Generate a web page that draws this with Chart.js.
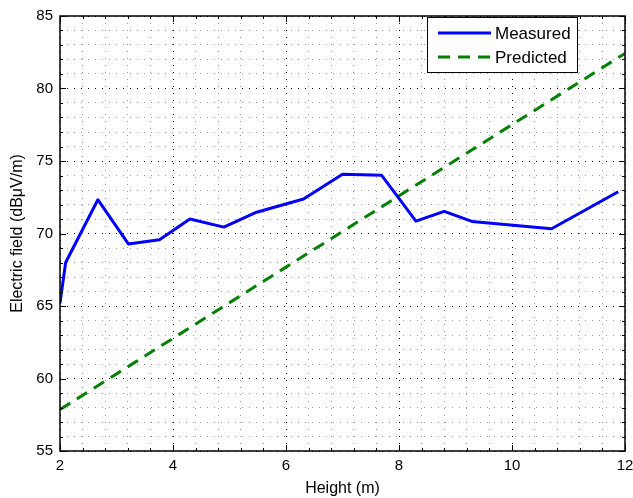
<!DOCTYPE html>
<html>
<head>
<meta charset="utf-8">
<script src="https://cdn.jsdelivr.net/npm/chart.js@4"></script>
<style>
  html, body { margin: 0; padding: 0; background: #fff; }
  #wrap { width: 633px; height: 498px; }
</style>
</head>
<body>
<div id="wrap"><canvas id="chart" width="633" height="498"></canvas></div>
<script>
// 測定値（高さ m / 電界強度 dBμV/m）
const heights = [2.0, 2.1, 2.67, 3.21, 3.76, 4.30, 4.90, 5.48, 6.31, 7.00, 7.69, 8.30, 8.80, 9.29, 10.70, 11.88];
const measured = [65.2, 68.0, 72.33, 69.28, 69.57, 71.0, 70.44, 71.47, 72.38, 74.08, 74.02, 70.85, 71.53, 70.83, 70.33, 72.88];

// 予測値（直線）
const predHeights = [2, 12];
const predicted = [57.86, 82.42];

const xTicks = [2, 4, 6, 8, 10, 12];
const yTicks = [55, 60, 65, 70, 75, 80, 85];

const FONT = '"Liberation Sans", Arial, Helvetica, sans-serif';

const toPoints = (xs, ys) => xs.map((x, i) => ({ x: x, y: ys[i] }));
const isMajor = (v, list) => list.some(t => Math.abs(t - v) < 1e-6);

// 枠線・内向き目盛り・凡例（MATLAB風）
const matlabAxes = {
    id: 'matlabAxes',
    afterDatasetsDraw(chart) {
        const { ctx, chartArea: a, scales } = chart;
        ctx.save();
        ctx.strokeStyle = '#000';
        ctx.lineWidth = 1;
        ctx.setLineDash([]);

        // 目盛り
        ctx.beginPath();
        scales.x.ticks.forEach(t => {
            const px = Math.round(scales.x.getPixelForValue(t.value)) + 0.5;
            const len = isMajor(t.value, xTicks) ? 6 : 3;
            ctx.moveTo(px, a.bottom); ctx.lineTo(px, a.bottom - len);
            ctx.moveTo(px, a.top); ctx.lineTo(px, a.top + len);
        });
        scales.y.ticks.forEach(t => {
            const py = Math.round(scales.y.getPixelForValue(t.value)) + 0.5;
            const len = isMajor(t.value, yTicks) ? 6 : 3;
            ctx.moveTo(a.left, py); ctx.lineTo(a.left + len, py);
            ctx.moveTo(a.right, py); ctx.lineTo(a.right - len, py);
        });
        ctx.stroke();

        // 枠
        ctx.lineWidth = 1.5;
        ctx.strokeRect(a.left, a.top, a.right - a.left, a.bottom - a.top);

        // 凡例
        const bx = a.right - 198, by = a.top + 1, bw = 150, bh = 55;
        ctx.fillStyle = '#fff';
        ctx.fillRect(bx, by, bw, bh);
        ctx.lineWidth = 1;
        ctx.strokeRect(bx + 0.5, by + 0.5, bw, bh);

        ctx.font = '17px ' + FONT;
        ctx.textBaseline = 'middle';
        ctx.textAlign = 'left';
        chart.data.datasets.forEach((ds, i) => {
            const y = by + 16 + i * 24;
            ctx.beginPath();
            ctx.strokeStyle = ds.borderColor;
            ctx.lineWidth = ds.borderWidth;
            ctx.setLineDash(ds.borderDash || []);
            ctx.moveTo(bx + 11, y);
            ctx.lineTo(bx + 64, y);
            ctx.stroke();
            ctx.setLineDash([]);
            ctx.fillStyle = '#000';
            ctx.fillText(ds.label, bx + 68, y + 1);
        });
        ctx.restore();
    }
};

const gridColor = (major) => (ctx) => {
    if (!ctx.tick) return '#999';
    return isMajor(ctx.tick.value, major) ? '#000' : '#9a9a9a';
};

new Chart(document.getElementById('chart'), {
    type: 'line',
    data: {
        datasets: [
            {
                label: 'Measured',
                data: toPoints(heights, measured),
                borderColor: '#0000ff',
                borderWidth: 3,
                pointRadius: 0,
                tension: 0,
                borderJoinStyle: 'round'
            },
            {
                label: 'Predicted',
                data: toPoints(predHeights, predicted),
                borderColor: '#008000',
                borderWidth: 3,
                borderDash: [12, 8],
                pointRadius: 0,
                tension: 0
            }
        ]
    },
    options: {
        responsive: false,
        animation: false,
        layout: { padding: { left: 0, right: 8, top: 12, bottom: 0 } },
        plugins: {
            legend: { display: false },
            tooltip: { enabled: false }
        },
        scales: {
            x: {
                type: 'linear',
                min: 2,
                max: 12,
                afterFit: (s) => { s.height = 47; s.paddingRight = 0; s.paddingLeft = 0; },
                ticks: {
                    stepSize: 0.4,
                    autoSkip: false,
                    maxRotation: 0,
                    padding: 6,
                    color: '#000',
                    font: { family: FONT, size: 15 },
                    callback: (v) => isMajor(v, xTicks) ? Math.round(v) : ''
                },
                grid: {
                    drawTicks: false,
                    color: gridColor(xTicks),
                    lineWidth: 1
                },
                border: { display: false, dash: [1, 6] },
                title: {
                    display: true,
                    text: 'Height (m)',
                    color: '#000',
                    font: { family: FONT, size: 16 },
                    padding: { top: 0, bottom: 0 }
                }
            },
            y: {
                min: 55,
                max: 85,
                afterFit: (s) => { s.width = 60; },
                ticks: {
                    stepSize: 1,
                    autoSkip: false,
                    padding: 7,
                    color: '#000',
                    font: { family: FONT, size: 15 },
                    callback: (v) => isMajor(v, yTicks) ? Math.round(v) : ''
                },
                grid: {
                    drawTicks: false,
                    color: gridColor(yTicks),
                    lineWidth: 1
                },
                border: { display: false, dash: [1, 6] },
                title: {
                    display: true,
                    text: 'Electric field (dBμV/m)',
                    color: '#000',
                    font: { family: FONT, size: 16 },
                    padding: { top: 8, bottom: 0 }
                }
            }
        }
    },
    plugins: [matlabAxes]
});
</script>
</body>
</html>
